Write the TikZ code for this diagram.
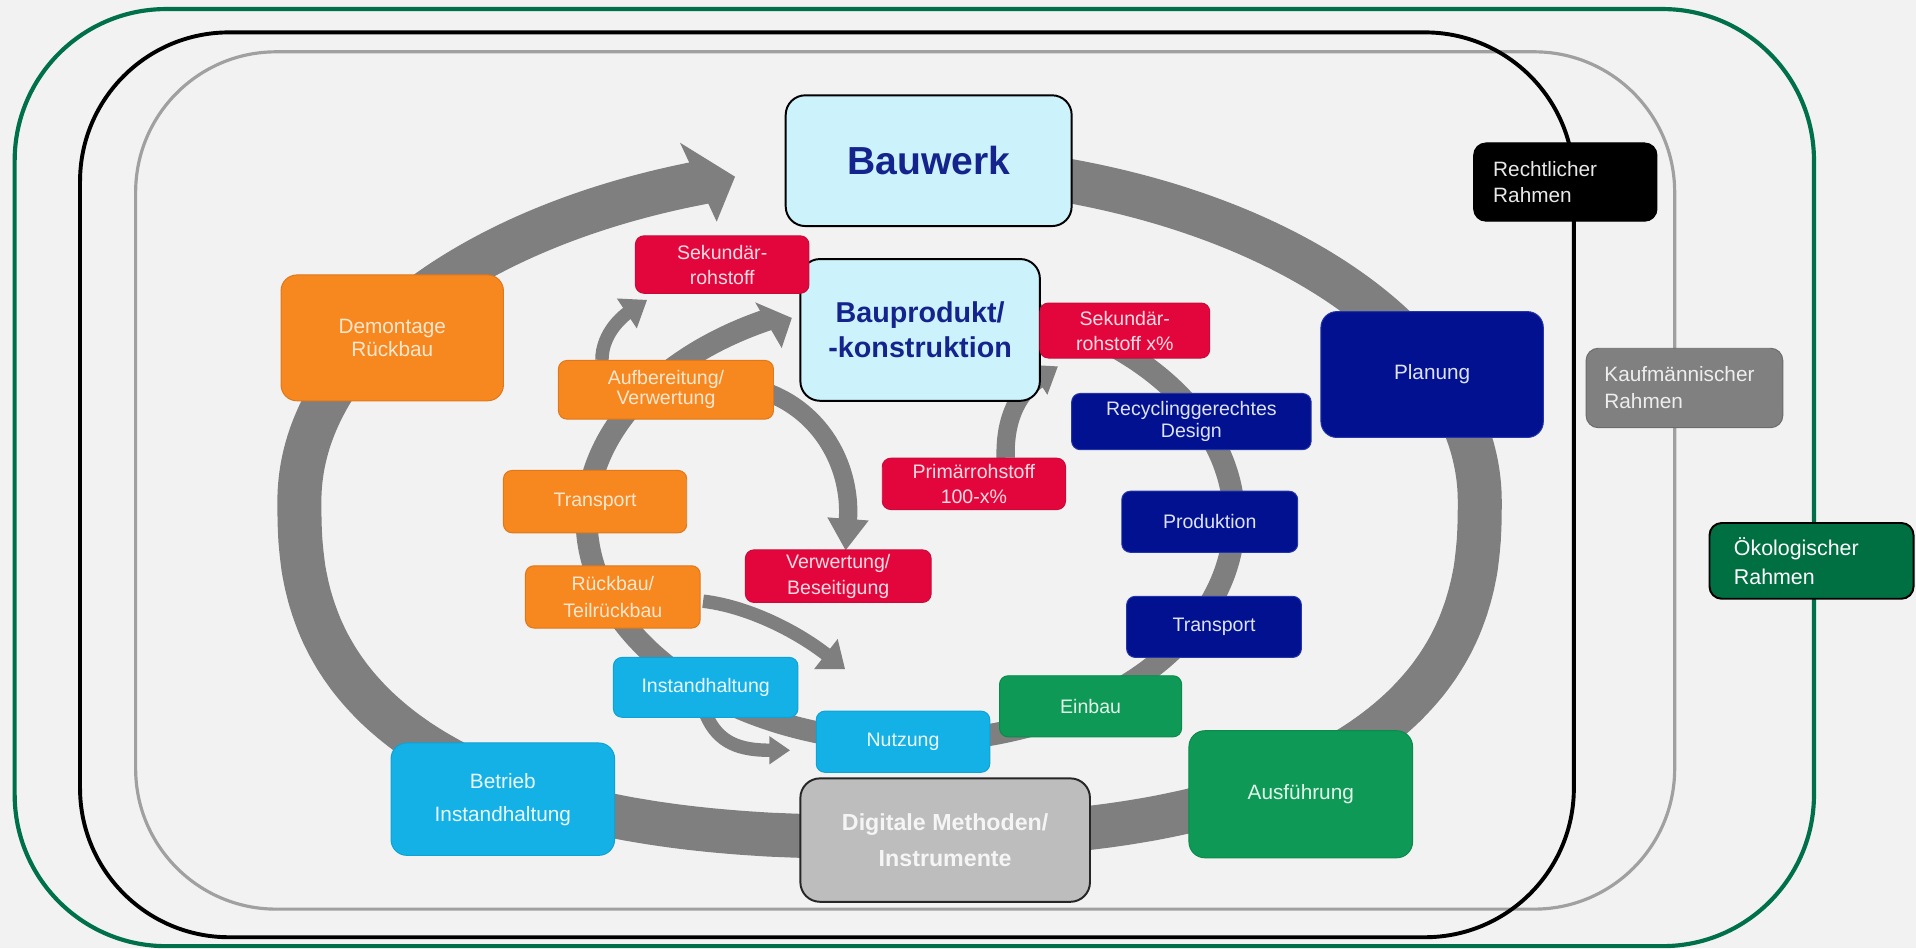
\documentclass[tikz,border=0pt]{standalone}
\usepackage{fontspec}
\setmainfont{Liberation Sans}
\usetikzlibrary{arrows.meta,calc,backgrounds}

\definecolor{bgc}{HTML}{F2F2F2}
\definecolor{ringc}{HTML}{7F7F7F}
\definecolor{fgreen}{HTML}{00704A}
\definecolor{fgray}{HTML}{A0A0A0}
\definecolor{orF}{HTML}{F7871F}
\definecolor{orD}{HTML}{E0781A}
\definecolor{orT}{HTML}{FDE7CF}
\definecolor{rdF}{HTML}{E3063D}
\definecolor{rdD}{HTML}{C90A3A}
\definecolor{rdT}{HTML}{FCDCE3}
\definecolor{nvF}{HTML}{02118F}
\definecolor{nvD}{HTML}{2335A8}
\definecolor{nvT}{HTML}{DDE2F5}
\definecolor{cyF}{HTML}{13B1E5}
\definecolor{cyD}{HTML}{0FA2D4}
\definecolor{cyT}{HTML}{EAF8FD}
\definecolor{grF}{HTML}{0E9A56}
\definecolor{grD}{HTML}{0B8A4C}
\definecolor{grT}{HTML}{E2F4EA}
\definecolor{lbF}{HTML}{CCF2FC}
\definecolor{lbT}{HTML}{14248C}
\definecolor{dgF}{HTML}{BDBDBD}
\definecolor{dgT}{HTML}{F5F5F5}
\definecolor{kfF}{HTML}{808080}
\definecolor{kfD}{HTML}{6C6C6C}
\definecolor{kfT}{HTML}{EEEEEE}
\definecolor{okF}{HTML}{007042}
\definecolor{rcT}{HTML}{E8E8E8}

\begin{document}
\begin{tikzpicture}[x=1pt,y=-1pt,
  bx/.style={rounded corners=7pt, inner sep=0pt, align=center, line width=0.8pt, font=\fontsize{16}{17.5}\selectfont},
  bigbx/.style={rounded corners=13pt, font=\fontsize{17}{20}\selectfont},
  orb/.style={fill=orF, draw=orD, text=orT},
  rdb/.style={fill=rdF, draw=rdD, text=rdT},
  nvb/.style={fill=nvF, draw=nvD, text=nvT},
  cyb/.style={fill=cyF, draw=cyD, text=cyT},
  grb/.style={fill=grF, draw=grD, text=grT},
  lbb/.style={rounded corners=16pt, fill=lbF, draw=black, line width=1.6pt, text=lbT},
  keyb/.style={bx, rounded corners=10pt, align=left, font=\fontsize{17}{22}\selectfont},
  flow/.style={draw=ringc},
]
\useasboundingbox (0,0) rectangle (1568,776);

% ---------- boxes ----------
\node[bx, lbb, font=\bfseries\fontsize{32}{36}\selectfont, minimum width=234pt, minimum height=107pt] (bauwerk) at (760,131.5) {Bauwerk};
\node[bx, lbb, font=\bfseries\fontsize{23.5}{29}\selectfont, minimum width=196pt, minimum height=116pt] (bauprod) at (753,270) {Bauprodukt/\\-konstruktion};

\node[bx, rdb, font=\fontsize{16}{20.5}\selectfont, minimum width=142pt, minimum height=47pt] (sek1) at (591,216.5) {Sekundär-\\rohstoff};
\node[bx, rdb, font=\fontsize{16}{20.5}\selectfont, minimum width=139pt, minimum height=45pt] (sek2) at (920.5,270.5) {Sekundär-\\rohstoff x\%};

\node[bx, bigbx, orb, font=\fontsize{17}{19}\selectfont, minimum width=182pt, minimum height=103pt] (demont) at (321,276.5) {Demontage\\Rückbau};
\node[bx, orb, font=\fontsize{16}{16.5}\selectfont, minimum width=176pt, minimum height=48pt] (aufb) at (545,319) {Aufbereitung/\\Verwertung};
\node[bx, orb, minimum width=150pt, minimum height=51pt] (transo) at (487,410.5) {Transport};
\node[bx, orb, font=\fontsize{16}{22}\selectfont, minimum width=143pt, minimum height=51pt] (rueck) at (501.5,488.5) {Rückbau/\\Teilrückbau};

\node[bx, rdb, font=\fontsize{16}{21.5}\selectfont, minimum width=152pt, minimum height=43pt] (verw) at (686,471.5) {Verwertung/\\Beseitigung};
\node[bx, rdb, font=\fontsize{16}{21}\selectfont, minimum width=150pt, minimum height=42pt] (prim) at (797,396) {Primärrohstoff\\100-x\%};

\node[bx, nvb, minimum width=196pt, minimum height=46pt] (recyc) at (975,345) {Recyclinggerechtes\\Design};
\node[bx, bigbx, nvb, minimum width=182pt, minimum height=103pt] (planung) at (1172,306.5) {Planung};
\node[bx, nvb, minimum width=144pt, minimum height=50pt] (prod) at (990,427) {Produktion};
\node[bx, nvb, minimum width=143pt, minimum height=50pt] (transb) at (993.5,513) {Transport};

\node[bx, grb, minimum width=149pt, minimum height=50pt] (einbau) at (892.5,578) {Einbau};
\node[bx, bigbx, grb, minimum width=183pt, minimum height=104pt] (ausf) at (1064.5,650) {Ausführung};

\node[bx, cyb, minimum width=151pt, minimum height=49pt] (instand) at (577.5,562.5) {Instandhaltung};
\node[bx, cyb, minimum width=142pt, minimum height=50pt] (nutzung) at (739,607) {Nutzung};
\node[bx, bigbx, cyb, font=\fontsize{17}{27}\selectfont, minimum width=183pt, minimum height=92pt] (betrieb) at (411.5,654) {Betrieb\\Instandhaltung};

\node[bx, rounded corners=16pt, fill=dgF, draw=black!85, line width=1.6pt, text=dgT, font=\bfseries\fontsize{19}{30}\selectfont, minimum width=237pt, minimum height=101pt] (digital) at (773.5,687.5) {Digitale Methoden/\\Instrumente};

\node[keyb, fill=black, draw=black, text=rcT, text width=118pt, minimum width=150pt, minimum height=64pt] (recht) at (1281,149) {Rechtlicher\\Rahmen};
\node[keyb, fill=kfF, draw=kfD, text=kfT, text width=131pt, minimum width=161pt, minimum height=65pt] (kauf) at (1378.5,317.5) {Kaufmännischer\\Rahmen};
\node[keyb, fill=okF, draw=black, line width=1.6pt, text=white, font=\fontsize{17.5}{24}\selectfont, text width=127pt, minimum width=167pt, minimum height=62pt] (oeko) at (1482.5,459) {Ökologischer\\Rahmen};

% ---------- background: frames, rings, arrows ----------
\begin{scope}[on background layer]
  \fill[bgc] (0,0) rectangle (1568,776);
  \draw[fgray, line width=2.6pt, rounded corners=115pt] (111,42.4) rectangle (1370.5,744);
  \draw[black, line width=3.2pt, rounded corners=122pt] (65.5,26.5) rectangle (1288,767);
  \draw[fgreen, line width=3.4pt, rounded corners=124pt] (12,7.4) rectangle (1484.5,774.3);

  % outer life-cycle ring (elliptic top, slightly squarer bottom)
  \draw[ringc, line width=36pt]
    plot[domain=-80:0, samples=90] ({728+483*cos(\x)},{410+275*sin(\x)})
    -- plot[domain=0.2:179.8, samples=200] ({728+483*(cos(\x)>=0?1:-1)*abs(cos(\x))^0.8},{410+275*(sin(\x))^0.8})
    -- plot[domain=180:252, samples=80] ({728+483*cos(\x)},{410+275*sin(\x)});
  \fill[ringc] (556.5,116.8) -- (601.5,144.6) -- (586.5,181.4) -- cycle;

  % inner product ring
  \draw[ringc, line width=18pt] plot[domain=-70:244, samples=240] ({745+265*cos(\x)},{425+182*sin(\x)});
  \fill[ringc] (618,247.4) -- (648,260.2) -- (639.7,284.8) -- cycle;

  % small arrows
  \draw[flow, line width=11pt, -{Triangle[width=28pt,length=20pt]}]
    ($(aufb.north west)+(36,0)$) .. controls ($(aufb.north west)+(36,-23)$) and ($(sek1.south west)+(-8,17)$) .. ($(sek1.south west)+(10,5)$);
  \draw[flow, line width=15pt, -{Triangle[width=32pt,length=26pt]}]
    ($(aufb.east)+(-3,3)$) .. controls (675,340) and (697,385) .. ($(verw.north)+(6,1)$);
  \draw[flow, line width=15pt, -{Triangle[width=28pt,length=20pt]}]
    ($(prim.north)+(26,0)$) .. controls (822,340) and (835,320) .. ($(bauprod.south east)+(14,-29)$);
  \draw[flow, line width=11pt, -{Triangle[width=30pt,length=20pt]}]
    ($(rueck.east)+(2,3.5)$) .. controls (610,496) and (650,515) .. ($(nutzung.north west)+(24,-34)$);
  \draw[flow, line width=11pt, -{Triangle[width=22pt,length=17pt]}]
    ($(instand.south)+(0.5,-2)$) .. controls (588,608) and (605,614) .. ($(nutzung.west)+(-21,7)$);
\end{scope}
\end{tikzpicture}
\end{document}
